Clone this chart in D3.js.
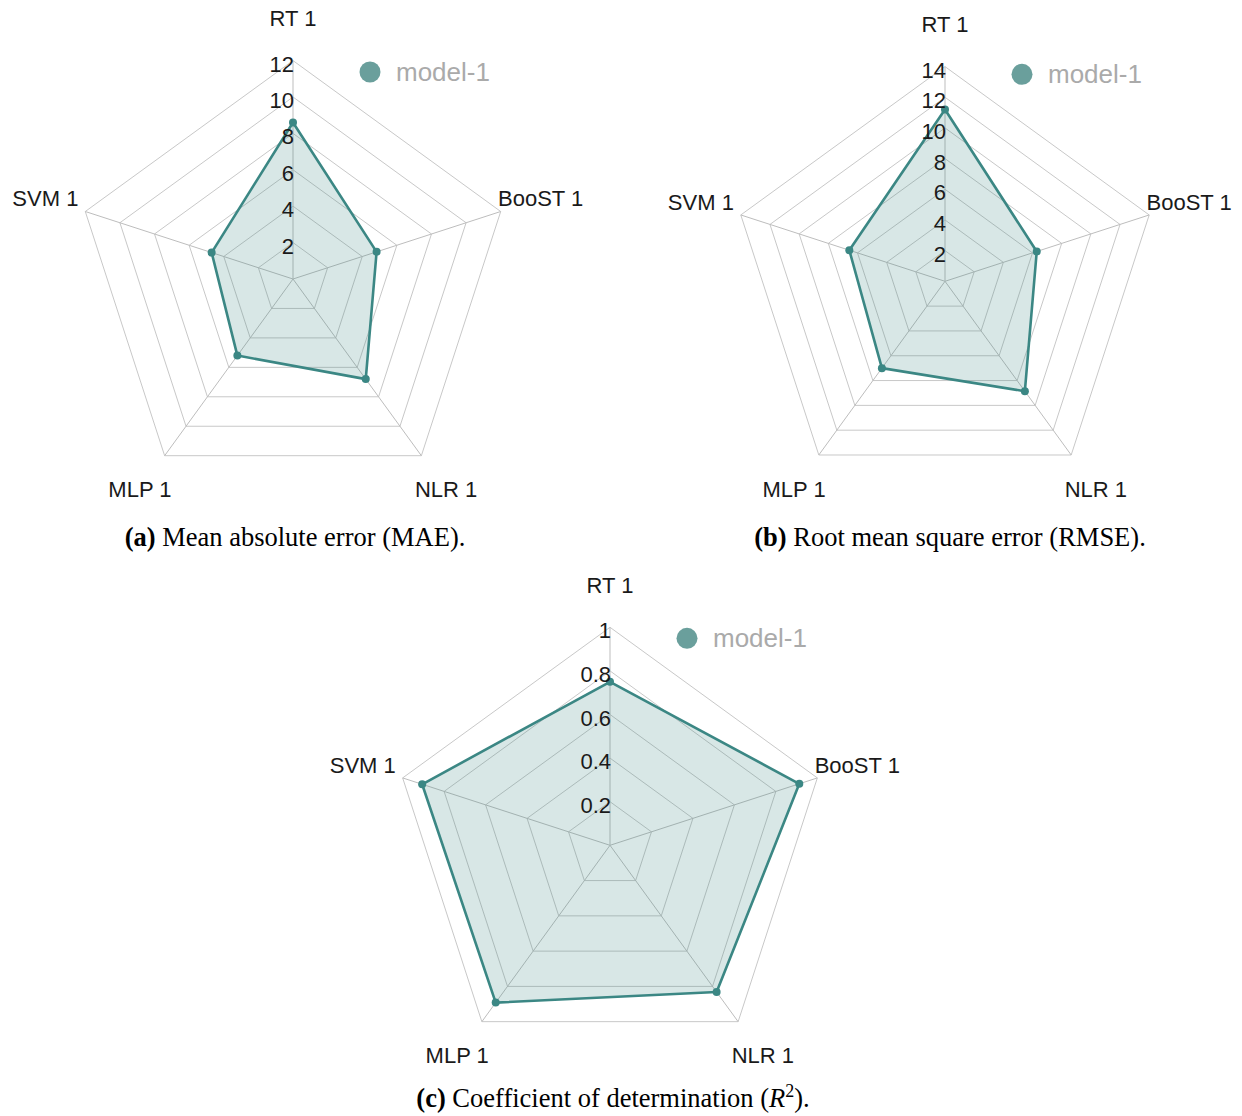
<!DOCTYPE html>
<html>
<head>
<meta charset="utf-8">
<script src="https://cdn.jsdelivr.net/npm/d3@7"></script>
<style>
  html, body { margin: 0; padding: 0; background: #fff; }
  svg { display: block; }
</style>
</head>
<body>
<svg id="chart" width="1242" height="1116"></svg>
<script>
// ---- data ----
const categories = ["RT 1", "BooST 1", "NLR 1", "MLP 1", "SVM 1"];
const seriesName = "model-1";
const maeValues  = [8.6, 4.83, 6.8, 5.2, 4.7];
const rmseValues = [11.2, 6.29, 8.86, 7.0, 6.56];
const r2Values   = [0.75, 0.913, 0.832, 0.892, 0.906];
const maeTicks  = [2, 4, 6, 8, 10, 12];
const rmseTicks = [2, 4, 6, 8, 10, 12, 14];
const r2Ticks   = [0.2, 0.4, 0.6, 0.8, 1];
const captionsBold = ["(a)", "(b)", "(c)"];
const captionsText = [" Mean absolute error (MAE).", " Root mean square error (RMSE).", null];

// ---- layout ----
const panels = [
  { cx: 293, cy: 279, R: 218.4, max: 12, values: maeValues, ticks: maeTicks, capX: 295, capY: 546 },
  { cx: 945, cy: 281.3, R: 214.7, max: 14, values: rmseValues, ticks: rmseTicks, capX: 950, capY: 546 },
  { cx: 610, cy: 845.3, R: 218, max: 1, values: r2Values, ticks: r2Ticks, capX: 613, capY: 1107 }
];

const svg = d3.select("#chart");
svg.append("rect").attr("width", 1242).attr("height", 1116).attr("fill", "#fff");

const lineColor = "#3b8784";
const sans = "Liberation Sans, Arial, sans-serif";
const n = categories.length;
const angle = i => i * 2 * Math.PI / n;

panels.forEach((p, pi) => {
  const g = svg.append("g").attr("transform", `translate(${p.cx},${p.cy})`);
  const r = d3.scaleLinear().domain([0, p.max]).range([0, p.R]);

  const ring = d3.lineRadial().angle((d, i) => angle(i)).radius(d => r(d)).curve(d3.curveLinearClosed);

  // grid rings
  p.ticks.forEach(t => {
    g.append("path")
      .attr("d", ring(categories.map(() => t)))
      .attr("fill", "none")
      .attr("stroke", "#c8c8c8")
      .attr("stroke-width", 1);
  });
  // spokes
  categories.forEach((c, i) => {
    const a = angle(i);
    g.append("line")
      .attr("x1", 0).attr("y1", 0)
      .attr("x2", r(p.max) * Math.sin(a))
      .attr("y2", -r(p.max) * Math.cos(a))
      .attr("stroke", "#bdbdbd").attr("stroke-width", 1);
  });

  // series area
  g.append("path")
    .attr("d", ring(p.values))
    .attr("fill", "rgba(59,135,132,0.2)")
    .attr("stroke", lineColor)
    .attr("stroke-width", 2.6)
    .attr("stroke-linejoin", "round");

  // points
  g.selectAll("circle.pt").data(p.values).enter().append("circle")
    .attr("class", "pt")
    .attr("cx", (d, i) => r(d) * Math.sin(angle(i)))
    .attr("cy", (d, i) => -r(d) * Math.cos(angle(i)))
    .attr("r", 4)
    .attr("fill", lineColor);

  // tick labels
  g.selectAll("text.tick").data(p.ticks).enter().append("text")
    .attr("class", "tick")
    .attr("x", 1)
    .attr("y", d => -r(d) + 11)
    .attr("text-anchor", "end")
    .attr("font-family", sans)
    .attr("font-size", 22)
    .attr("fill", "#1a1a1a")
    .text(d => d);

  // category labels
  categories.forEach((c, i) => {
    const a = angle(i);
    const rr = p.R + 42;
    g.append("text")
      .attr("x", rr * Math.sin(a))
      .attr("y", -rr * Math.cos(a))
      .attr("dy", "0.35em")
      .attr("text-anchor", "middle")
      .attr("font-family", sans)
      .attr("font-size", 22)
      .attr("fill", "#1a1a1a")
      .text(c);
  });

  // legend
  g.append("circle").attr("cx", 77).attr("cy", -207).attr("r", 10.5).attr("fill", "#6a9f9c");
  g.append("text")
    .attr("x", 103).attr("y", -207).attr("dy", "0.35em")
    .attr("font-family", sans)
    .attr("font-size", 26)
    .attr("fill", "#aaaaaa")
    .text(seriesName);

  // caption
  const cap = svg.append("text")
    .attr("x", p.capX).attr("y", p.capY)
    .attr("text-anchor", "middle")
    .attr("font-family", "Liberation Serif, Times New Roman, serif")
    .attr("font-size", 26.5)
    .attr("fill", "#000");
  cap.append("tspan").attr("font-weight", "bold").text(captionsBold[pi]);
  if (captionsText[pi]) {
    cap.append("tspan").text(captionsText[pi]);
  } else {
    cap.append("tspan").text(" Coefficient of determination (");
    cap.append("tspan").attr("font-style", "italic").text("R");
    cap.append("tspan").attr("font-size", 18).attr("dy", -10).text("2");
    cap.append("tspan").attr("dy", 10).text(").");
  }
});
</script>
</body>
</html>
